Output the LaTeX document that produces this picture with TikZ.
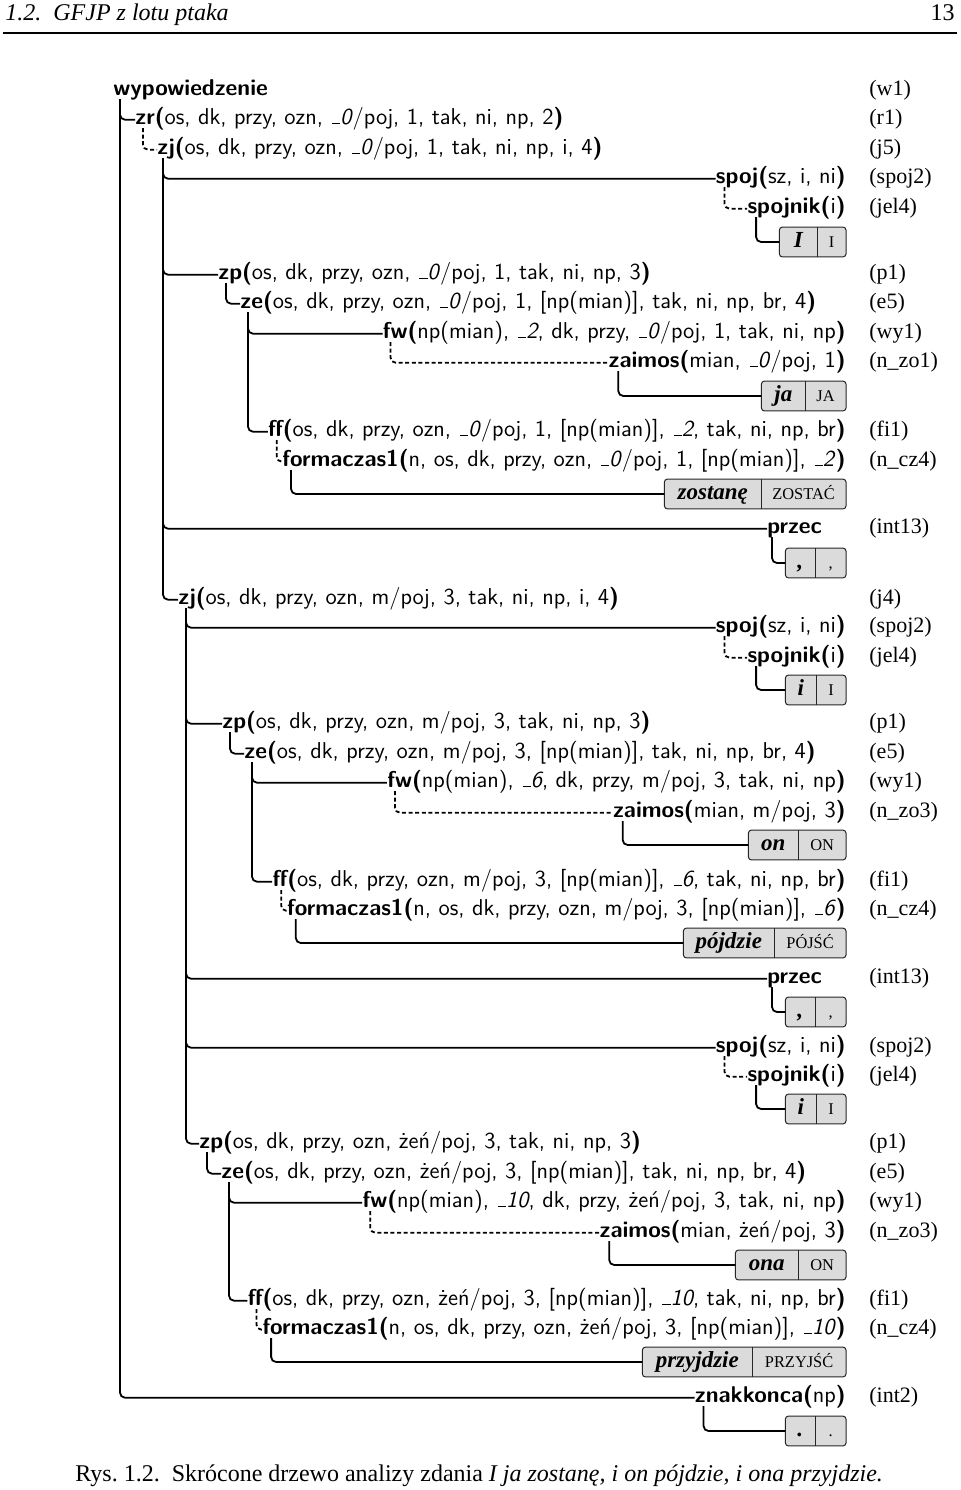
\documentclass[tikz,border=0pt]{standalone}
\usepackage{fontspec}
\newfontfamily\tms{Liberation Serif}
\usetikzlibrary{backgrounds}
\newcommand\Hd[2]{\textbf{#1(}#2\textbf{)}}
\newcommand\un[1]{\leavevmode\kern.06em\vbox{\hrule height 0.6pt width .36em}\textit{#1}}
\newcommand\fsz{\fontsize{11.45}{13}\selectfont}
\newcommand\lsz{\fontsize{11}{13}\selectfont}
\newcommand\wsz{\fontsize{11.5}{13}\selectfont}
\newcommand\csz{\fontsize{8.2}{10}\selectfont}
\tikzset{
 tl/.style={inner sep=0pt, font=\sffamily\fsz, anchor=base west},
 tr/.style={inner sep=0pt, font=\sffamily\fsz, anchor=base east},
 lab/.style={inner sep=0pt, font=\tms\lsz, anchor=base west},
 conn/.style={line width=0.9pt, rounded corners=2.5pt},
 dconn/.style={conn, dash pattern=on 2pt off 1.3pt},
 cell/.style={inner sep=0pt, minimum height=14.5pt, text height=7pt, text depth=2pt, anchor=east},
 wcell/.style={cell, font=\tms\wsz\bfseries\itshape},
 lcell/.style={cell, font=\tms\csz},
 boxbg/.style={draw=black!85, line width=0.5pt, fill=gray!28, rounded corners=1.5pt},
}
\newcommand\wbox[6]{%
 \node[lcell, minimum width=#6*0.5pt] (#1r) at (846,#2) {#4};
 \node[wcell, minimum width=#5*0.5pt] (#1l) at (#1r.west) {#3};
 \begin{pgfonlayer}{background}
 \draw[boxbg] (#1l.north west) rectangle (#1r.south east);
 \end{pgfonlayer}
 \draw[line width=0.5pt, black!85] (#1l.north east) -- (#1l.south east);
}
\newcommand\br[4][conn]{\draw[#1] ([xshift=#4pt,yshift=-2pt]#2.base west) |- (#3);}
\begin{document}
\begin{tikzpicture}[x=0.5pt,y=-0.5pt]
\begin{pgfonlayer}{background}
\fill[white] (0,0) rectangle (960,1490);
\end{pgfonlayer}
\useasboundingbox (0,0) rectangle (960,1490);
% header
\node[inner sep=0pt, anchor=base west, font=\tms\fontsize{12}{14}\selectfont\itshape] (hdr) at (5,20) {1.2.\enspace GFJP z lotu ptaka};
\node[inner sep=0pt, anchor=base east, font=\tms\fontsize{12}{14}\selectfont] (pg) at (955,20) {13};
\draw[line width=0.9pt] (3,33) -- (957,33);
% rows
\node[tl] (wyp) at (113,95) {\textbf{wypowiedzenie}};
\node[tl] (zr) at (135,124) {\Hd{zr}{os, dk, przy, ozn, \un{0}/poj, 1, tak, ni, np, 2}};
\node[tl] (zjA) at (157,154) {\Hd{zj}{os, dk, przy, ozn, \un{0}/poj, 1, tak, ni, np, i, 4}};
\node[tr] (spojA) at (846,183) {\Hd{spoj}{sz, i, ni}};
\node[tr] (spjnA) at (846,213) {\Hd{spojnik}{i}};
\wbox{bA}{242}{I}{I}{37}{28}
\node[tl] (zpA) at (218,279) {\Hd{zp}{os, dk, przy, ozn, \un{0}/poj, 1, tak, ni, np, 3}};
\node[tl] (zeA) at (240,308) {\Hd{ze}{os, dk, przy, ozn, \un{0}/poj, 1, [np(mian)], tak, ni, np, br, 4}};
\node[tr] (fwA) at (846,338) {\Hd{fw}{np(mian), \un{2}, dk, przy, \un{0}/poj, 1, tak, ni, np}};
\node[tr] (zaA) at (846,367) {\Hd{zaimos}{mian, \un{0}/poj, 1}};
\wbox{bJa}{396}{ja}{JA}{43}{40}
\node[tr] (ffA) at (846,436) {\Hd{ff}{os, dk, przy, ozn, \un{0}/poj, 1, [np(mian)], \un{2}, tak, ni, np, br}};
\node[tr] (fcA) at (846,466) {\Hd{formaczas1}{n, os, dk, przy, ozn, \un{0}/poj, 1, [np(mian)], \un{2}}};
\wbox{bZo}{494}{zostanę}{ZOSTAĆ}{96}{84}
\node[tl] (przA) at (767,533) {\textbf{przec}};
\wbox{bCa}{563}{,}{,}{29}{30}
\node[tl] (zjB) at (178,604) {\Hd{zj}{os, dk, przy, ozn, m/poj, 3, tak, ni, np, i, 4}};
\node[tr] (spojB) at (846,632) {\Hd{spoj}{sz, i, ni}};
\node[tr] (spjnB) at (846,662) {\Hd{spojnik}{i}};
\wbox{bIb}{690}{i}{I}{30}{29}
\node[tl] (zpB) at (222,728) {\Hd{zp}{os, dk, przy, ozn, m/poj, 3, tak, ni, np, 3}};
\node[tl] (zeB) at (244,758) {\Hd{ze}{os, dk, przy, ozn, m/poj, 3, [np(mian)], tak, ni, np, br, 4}};
\node[tr] (fwB) at (846,787) {\Hd{fw}{np(mian), \un{6}, dk, przy, m/poj, 3, tak, ni, np}};
\node[tr] (zaB) at (846,817) {\Hd{zaimos}{mian, m/poj, 3}};
\wbox{bOn}{845}{on}{ON}{49}{47}
\node[tr] (ffB) at (846,886) {\Hd{ff}{os, dk, przy, ozn, m/poj, 3, [np(mian)], \un{6}, tak, ni, np, br}};
\node[tr] (fcB) at (846,915) {\Hd{formaczas1}{n, os, dk, przy, ozn, m/poj, 3, [np(mian)], \un{6}}};
\wbox{bPo}{943}{pójdzie}{PÓJŚĆ}{90}{71}
\node[tl] (przB) at (767,983) {\textbf{przec}};
\wbox{bCb}{1012}{,}{,}{29}{30}
\node[tr] (spojC) at (846,1052) {\Hd{spoj}{sz, i, ni}};
\node[tr] (spjnC) at (846,1081) {\Hd{spojnik}{i}};
\wbox{bIc}{1109}{i}{I}{30}{29}
\node[tl] (zpC) at (199,1148) {\Hd{zp}{os, dk, przy, ozn, żeń/poj, 3, tak, ni, np, 3}};
\node[tl] (zeC) at (221,1178) {\Hd{ze}{os, dk, przy, ozn, żeń/poj, 3, [np(mian)], tak, ni, np, br, 4}};
\node[tr] (fwC) at (846,1207) {\Hd{fw}{np(mian), \un{10}, dk, przy, żeń/poj, 3, tak, ni, np}};
\node[tr] (zaC) at (846,1237) {\Hd{zaimos}{mian, żeń/poj, 3}};
\wbox{bOna}{1265}{ona}{ON}{62}{47}
\node[tr] (ffC) at (846,1305) {\Hd{ff}{os, dk, przy, ozn, żeń/poj, 3, [np(mian)], \un{10}, tak, ni, np, br}};
\node[tr] (fcC) at (846,1334) {\Hd{formaczas1}{n, os, dk, przy, ozn, żeń/poj, 3, [np(mian)], \un{10}}};
\wbox{bPr}{1362}{przyjdzie}{PRZYJŚĆ}{109}{93}
\node[tr] (znak) at (846,1402) {\Hd{znakkonca}{np}};
\wbox{bDot}{1431}{.}{.}{29}{30}
% labels
\node[lab] (l1) at (869,95) {(w1)};
\node[lab] (l2) at (869,124) {(r1)};
\node[lab] (l3) at (869,154) {(j5)};
\node[lab] (l4) at (869,183) {(spoj2)};
\node[lab] (l5) at (869,213) {(jel4)};
\node[lab] (l6) at (869,279) {(p1)};
\node[lab] (l7) at (869,308) {(e5)};
\node[lab] (l8) at (869,338) {(wy1)};
\node[lab] (l9) at (869,367) {(n\_zo1)};
\node[lab] (l10) at (869,436) {(fi1)};
\node[lab] (l11) at (869,466) {(n\_cz4)};
\node[lab] (l12) at (869,533) {(int13)};
\node[lab] (l13) at (869,604) {(j4)};
\node[lab] (l14) at (869,632) {(spoj2)};
\node[lab] (l15) at (869,662) {(jel4)};
\node[lab] (l16) at (869,728) {(p1)};
\node[lab] (l17) at (869,758) {(e5)};
\node[lab] (l18) at (869,787) {(wy1)};
\node[lab] (l19) at (869,817) {(n\_zo3)};
\node[lab] (l20) at (869,886) {(fi1)};
\node[lab] (l21) at (869,915) {(n\_cz4)};
\node[lab] (l22) at (869,983) {(int13)};
\node[lab] (l23) at (869,1052) {(spoj2)};
\node[lab] (l24) at (869,1081) {(jel4)};
\node[lab] (l25) at (869,1148) {(p1)};
\node[lab] (l26) at (869,1178) {(e5)};
\node[lab] (l27) at (869,1207) {(wy1)};
\node[lab] (l28) at (869,1237) {(n\_zo3)};
\node[lab] (l29) at (869,1305) {(fi1)};
\node[lab] (l30) at (869,1334) {(n\_cz4)};
\node[lab] (l31) at (869,1402) {(int2)};
% caption
\node[inner sep=0pt, anchor=base west, font=\tms\fontsize{12}{14}\selectfont] (cap) at (75,1481) {Rys.~1.2.\enspace Skrócone drzewo analizy zdania \textit{I ja zostanę, i on pójdzie, i ona przyjdzie.}};
% connectors
\br{wyp}{zr.mid west}{3.5}
\br{wyp}{znak.mid west}{3.5}
\br[dconn]{zr}{zjA.mid west}{4}
\br{zjA}{spojA.mid west}{3}
\br{zjA}{zpA.mid west}{3}
\br{zjA}{przA.mid west}{3}
\br{zjA}{zjB.mid west}{3}
\br[dconn]{spojA}{spjnA.mid west}{4.5}
\br{spjnA}{bAl.west}{4.5}
\br{zpA}{zeA.mid west}{4}
\br{zeA}{fwA.mid west}{4}
\br{zeA}{ffA.mid west}{4}
\br[dconn]{fwA}{zaA.mid west}{4}
\br{zaA}{bJal.west}{5}
\br[dconn]{ffA}{fcA.mid west}{4.5}
\br{fcA}{bZol.west}{4.5}
\br{przA}{bCal.west}{2.5}
\br{zjB}{spojB.mid west}{4}
\br{zjB}{zpB.mid west}{4}
\br{zjB}{przB.mid west}{4}
\br{zjB}{spojC.mid west}{4}
\br{zjB}{zpC.mid west}{4}
\br[dconn]{spojB}{spjnB.mid west}{4.5}
\br{spjnB}{bIbl.west}{4.5}
\br{zpB}{zeB.mid west}{4}
\br{zeB}{fwB.mid west}{4}
\br{zeB}{ffB.mid west}{4}
\br[dconn]{fwB}{zaB.mid west}{4}
\br{zaB}{bOnl.west}{5}
\br[dconn]{ffB}{fcB.mid west}{4.5}
\br{fcB}{bPol.west}{4.5}
\br{przB}{bCbl.west}{2.5}
\br[dconn]{spojC}{spjnC.mid west}{4.5}
\br{spjnC}{bIcl.west}{4.5}
\br{zpC}{zeC.mid west}{4}
\br{zeC}{fwC.mid west}{4}
\br{zeC}{ffC.mid west}{4}
\br[dconn]{fwC}{zaC.mid west}{4}
\br{zaC}{bOnal.west}{5}
\br[dconn]{ffC}{fcC.mid west}{4.5}
\br{fcC}{bPrl.west}{4.5}
\br{znak}{bDotl.west}{4.5}
\end{tikzpicture}
\end{document}
